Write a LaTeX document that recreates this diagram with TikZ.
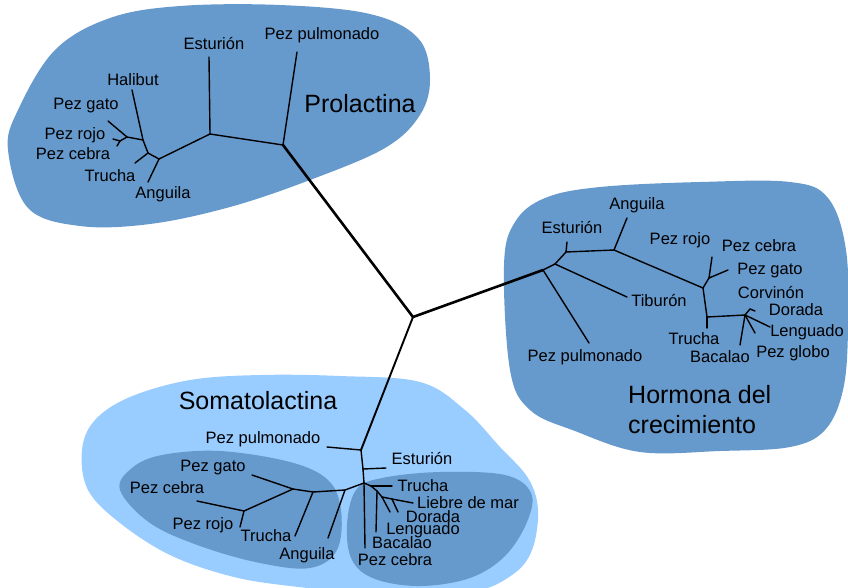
\documentclass[tikz,border=0pt]{standalone}
\usepackage{fontspec}
\setmainfont{Liberation Sans}
\definecolor{blobdark}{RGB}{102,153,204}
\definecolor{bloblight}{RGB}{153,204,255}
\definecolor{blobinner}{RGB}{102,153,204}
\begin{document}
\begin{tikzpicture}[x=1pt,y=-1pt,
  lbl/.style={font=\fontsize{16.5}{18}\selectfont, inner sep=0pt, anchor=base},
  big/.style={font=\fontsize{25}{30}\selectfont, inner sep=0pt, anchor=base},
  br/.style={line width=1.4pt, line cap=round, line join=round},
  trunk/.style={line width=2.6pt, line cap=round, line join=round},
  trunkb/.style={line width=1.9pt, line cap=round, line join=round}]
\useasboundingbox (0,0) rectangle (848,587);
% ---------- blobs ----------
\fill[bloblight] plot[smooth cycle, tension=0.6] coordinates {(82,450) (95,420) (130,397) (190,380) (260,375) (340,376) (420,382) (465,410) (500,447) (528,478) (538,510) (532,550) (512,575) (470,592) (380,594) (290,586) (230,576) (170,555) (120,523) (88,490)};
\fill[blobinner] plot[smooth cycle, tension=0.6] coordinates {(120,490) (132,468) (162,455) (220,451) (290,462) (328,480) (341,510) (337,550) (310,568) (260,563) (200,546) (150,523)};
\fill[blobinner] plot[smooth cycle, tension=0.6] coordinates {(347,525) (356,490) (382,478) (440,472) (505,475) (531,493) (527,522) (505,556) (470,578) (420,586) (375,579) (352,560)};
\fill[blobdark] plot[smooth cycle, tension=0.6] coordinates {(8,150) (18,110) (55,50) (110,18) (180,6) (280,5) (370,14) (418,38) (430,78) (420,115) (385,148) (310,180) (230,207) (150,224) (80,226) (28,208)};
\fill[blobdark] plot[smooth cycle, tension=0.6] coordinates {(504,265) (515,222) (545,198) (600,187) (700,182) (790,182) (828,198) (846,250) (848,330) (843,390) (825,430) (790,447) (720,451) (640,452) (575,431) (530,410) (510,370)};
% ---------- tree coordinates ----------
\coordinate (C) at (413,317);
% Prolactina
\coordinate (P1) at (283,145); \coordinate (tPP) at (297,52);
\coordinate (P2) at (210,134); \coordinate (tPE) at (209,57);
\coordinate (P3) at (159,159); \coordinate (tPA) at (148,182);
\coordinate (P4) at (148,153); \coordinate (tPT) at (135,163);
\coordinate (P5) at (143,140); \coordinate (tPH) at (132,90);
\coordinate (P6) at (127,137); \coordinate (tPG) at (108,121);
\coordinate (P7) at (120,141); \coordinate (tPR) at (113,139); \coordinate (tPC) at (117,146);
% Hormona del crecimiento
\coordinate (H1) at (543,270); \coordinate (tHPu) at (589,343);
\coordinate (H2) at (555,264); \coordinate (tHTi) at (627,297);
\coordinate (H3) at (566,252); \coordinate (tHE) at (567,242);
\coordinate (H4) at (614,250); \coordinate (tHA) at (627,218);
\coordinate (H5) at (703,288);
\coordinate (H6) at (709,278); \coordinate (tHC) at (712,257); \coordinate (tHG) at (728,270);
\coordinate (H7) at (707,317); \coordinate (tHT) at (707,328);
\coordinate (H8) at (745,315); \coordinate (tHB) at (740,345);
\coordinate (H9) at (750,309); \coordinate (tHD) at (755,311);
\coordinate (tHL) at (770,327); \coordinate (tHPg) at (755,333);
% Somatolactina
\coordinate (S1) at (361,450); \coordinate (tSPu) at (327,447);
\coordinate (S2) at (363,469); \coordinate (tSE) at (386,468);
\coordinate (S3) at (364,483);
\coordinate (L1) at (345,490); \coordinate (tSA) at (328,538);
\coordinate (L2) at (313,492); \coordinate (tST) at (295,536);
\coordinate (L3) at (293,489); \coordinate (tSG) at (252,475);
\coordinate (L4) at (244,511); \coordinate (tSC) at (197,501); \coordinate (tSR) at (240,527);
\coordinate (tSCb) at (365,548);
\coordinate (R1) at (371,486); \coordinate (tSTr) at (392,486);
\coordinate (R2) at (377,491); \coordinate (tSB) at (376,532);
\coordinate (R3) at (382,497); \coordinate (tSL) at (390,512);
\coordinate (R4) at (392,499); \coordinate (tSD) at (398,512); \coordinate (tSLm) at (413,503);
% ---------- trunks ----------
\draw[trunk] (C) -- (P1);
\draw[trunk] (C) -- (H1);
\draw[trunkb] (C) -- (S1);
% ---------- Prolactina branches ----------
\draw[br] (P1) -- (tPP);
\draw[br] (P1) -- (P2);
\draw[br] (P2) -- (tPE);
\draw[br] (P2) -- (P3);
\draw[br] (P3) -- (tPA);
\draw[br] (P3) -- (P4);
\draw[br] (P4) -- (tPT);
\draw[br] (P4) -- (P5);
\draw[br] (P5) -- (tPH);
\draw[br] (P5) -- (P6);
\draw[br] (P6) -- (tPG);
\draw[br] (P6) -- (P7);
\draw[br] (P7) -- (tPR);
\draw[br] (P7) -- (tPC);
% ---------- Hormona branches ----------
\draw[br] (H1) -- (tHPu);
\draw[br] (H1) -- (H2);
\draw[br] (H2) -- (tHTi);
\draw[br] (H2) -- (H3);
\draw[br] (H3) -- (tHE);
\draw[br] (H3) -- (H4);
\draw[br] (H4) -- (tHA);
\draw[br] (H4) -- (H5);
\draw[br] (H5) -- (H6);
\draw[br] (H6) -- (tHC);
\draw[br] (H6) -- (tHG);
\draw[br] (H5) -- (H7);
\draw[br] (H7) -- (tHT);
\draw[br] (H7) -- (H8);
\draw[br] (H8) -- (tHB);
\draw[br] (H8) -- (H9);
\draw[br] (H9) -- (tHD);
\draw[br] (H8) -- (tHL);
\draw[br] (H8) -- (tHPg);
% ---------- Somatolactina branches ----------
\draw[br] (S1) -- (tSPu);
\draw[br] (S1) -- (S2);
\draw[br] (S2) -- (tSE);
\draw[br] (S2) -- (S3);
\draw[br] (S3) -- (L1);
\draw[br] (L1) -- (tSA);
\draw[br] (L1) -- (L2);
\draw[br] (L2) -- (tST);
\draw[br] (L2) -- (L3);
\draw[br] (L3) -- (tSG);
\draw[br] (L3) -- (L4);
\draw[br] (L4) -- (tSC);
\draw[br] (L4) -- (tSR);
\draw[br] (S3) -- (tSCb);
\draw[br] (S3) -- (R1);
\draw[br] (R1) -- (tSTr);
\draw[br] (R1) -- (R2);
\draw[br] (R2) -- (tSB);
\draw[br] (R2) -- (R3);
\draw[br] (R3) -- (tSL);
\draw[br] (R3) -- (R4);
\draw[br] (R4) -- (tSD);
\draw[br] (R4) -- (tSLm);
% ---------- labels: Prolactina ----------
\node[big] (nProl) at (360,112) {Prolactina};
\node[lbl] (nPPu) at (322,39) {Pez pulmonado};
\node[lbl] (nPEs) at (214,49) {Esturión};
\node[lbl] (nPHa) at (133,85) {Halibut};
\node[lbl] (nPGa) at (86,109) {Pez gato};
\node[lbl] (nPRo) at (75,139) {Pez rojo};
\node[lbl] (nPCe) at (73,159) {Pez cebra};
\node[lbl] (nPTr) at (110,181) {Trucha};
\node[lbl] (nPAn) at (163,198) {Anguila};
% ---------- labels: Hormona ----------
\node[lbl] (nHAn) at (637,209) {Anguila};
\node[lbl] (nHEs) at (572,233) {Esturión};
\node[lbl] (nHRo) at (680,244) {Pez rojo};
\node[lbl] (nHCe) at (759,251) {Pez cebra};
\node[lbl] (nHGa) at (770,274) {Pez gato};
\node[lbl] (nHCo) at (771,298) {Corvinón};
\node[lbl] (nHDo) at (796,315) {Dorada};
\node[lbl] (nHLe) at (807,336) {Lenguado};
\node[lbl] (nHGl) at (793,357) {Pez globo};
\node[lbl] (nHTr) at (694,344) {Trucha};
\node[lbl] (nHBa) at (720,362) {Bacalao};
\node[lbl] (nHTi) at (659,306) {Tiburón};
\node[lbl] (nHPu) at (585,361) {Pez pulmonado};
\node[big, anchor=base west] (nHor1) at (628,403) {Hormona del};
\node[big, anchor=base west] (nHor2) at (628,433) {crecimiento};
% ---------- labels: Somatolactina ----------
\node[big] (nSom) at (258,409) {Somatolactina};
\node[lbl] (nSPu) at (263,443) {Pez pulmonado};
\node[lbl] (nSEs) at (422,464) {Esturión};
\node[lbl] (nSGa) at (213,471) {Pez gato};
\node[lbl] (nSCe) at (167,493) {Pez cebra};
\node[lbl] (nSRo) at (203,529) {Pez rojo};
\node[lbl] (nSTr) at (266,541) {Trucha};
\node[lbl] (nSAn) at (307,559) {Anguila};
\node[lbl] (nSTr2) at (423,491) {Trucha};
\node[lbl] (nSLm) at (468,508) {Liebre de mar};
\node[lbl] (nSDo) at (433,522) {Dorada};
\node[lbl] (nSLe) at (423,534) {Lenguado};
\node[lbl] (nSBa) at (402,548) {Bacalao};
\node[lbl] (nSCb) at (395,565) {Pez cebra};
\end{tikzpicture}
\end{document}
